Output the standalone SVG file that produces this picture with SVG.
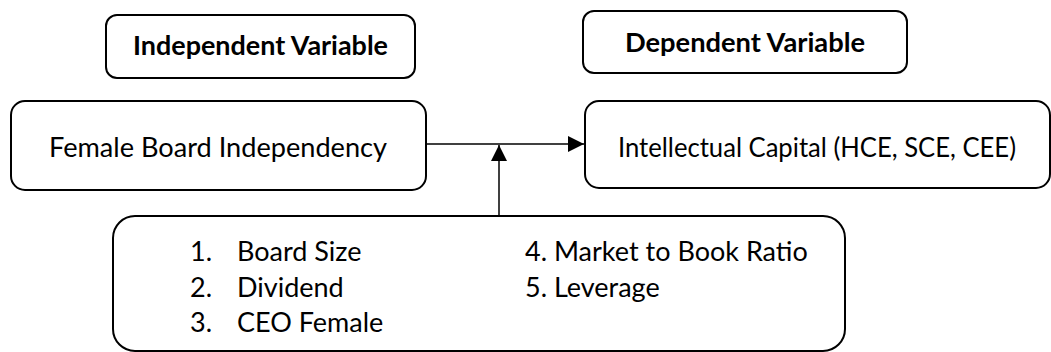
<svg xmlns="http://www.w3.org/2000/svg" width="1051" height="352" viewBox="0 0 1051 352">
<defs>
<style>
.box{fill:#fff;stroke:#000;stroke-width:2}
.t{font-family:Lato,"Liberation Sans",sans-serif;font-size:26px;fill:#000}
.l{font-family:Lato,"Liberation Sans",sans-serif;font-size:27px;fill:#000}
.b{font-family:Lato,"Liberation Sans",sans-serif;font-size:26px;font-weight:bold;fill:#000}
.c{stroke:#000;stroke-width:1.5;fill:none}
</style>
<marker id="ah" viewBox="0 0 16 16" refX="16" refY="8" markerWidth="16" markerHeight="16" markerUnits="userSpaceOnUse" orient="auto">
<path d="M0,0 L16,8 L0,16 Z" fill="#000"/>
</marker>
</defs>
<rect width="1051" height="352" fill="#fff"/>
<g id="independent-label">
<rect class="box" x="106" y="15" width="309" height="63" rx="11"/>
<text class="b" x="133" y="55" textLength="255" lengthAdjust="spacingAndGlyphs">Independent Variable</text>
</g>
<g id="dependent-label">
<rect class="box" x="583" y="11" width="324" height="62" rx="11"/>
<text class="b" x="625" y="52" textLength="240" lengthAdjust="spacingAndGlyphs">Dependent Variable</text>
</g>
<g id="female-board">
<rect class="box" x="11" y="101" width="415" height="89" rx="14"/>
<text class="t" x="49" y="157" textLength="338" lengthAdjust="spacingAndGlyphs">Female Board Independency</text>
</g>
<g id="intellectual-capital">
<rect class="box" x="585" y="101" width="465" height="87" rx="14"/>
<text class="t" x="618" y="157" textLength="398" lengthAdjust="spacingAndGlyphs">Intellectual Capital (HCE, SCE, CEE)</text>
</g>
<g id="controls">
<rect class="box" x="113" y="216" width="732" height="135" rx="22"/>
<text class="l" x="190" y="261">1.</text><text class="l" x="237" y="261">Board Size</text>
<text class="l" x="190" y="296.5">2.</text><text class="l" x="237" y="296.5">Dividend</text>
<text class="l" x="190" y="332">3.</text><text class="l" x="237" y="332">CEO Female</text>
<text class="l" x="525" y="261">4. Market to Book Ratio</text>
<text class="l" x="525" y="297">5. Leverage</text>
</g>
<g id="connectors">
<line class="c" x1="426" y1="144" x2="584" y2="144" marker-end="url(#ah)"/>
<line class="c" x1="499" y1="215" x2="499" y2="145" marker-end="url(#ah)"/>
</g>
</svg>
